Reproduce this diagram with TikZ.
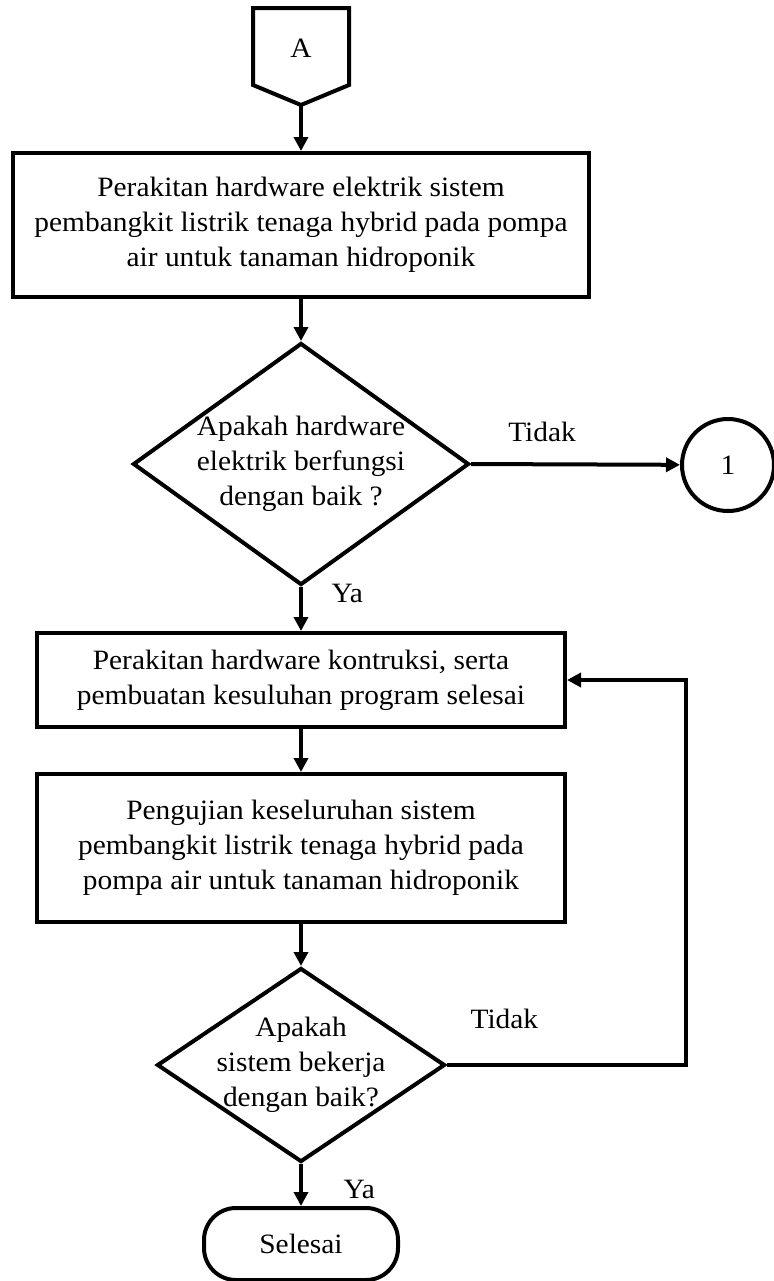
\documentclass[tikz,border=0pt]{standalone}
\usepackage{fontspec}
\setmainfont{Liberation Serif}[FakeStretch=1.05]
\usetikzlibrary{shapes}
\usetikzlibrary{arrows.meta}
\usetikzlibrary{calc}
\begin{document}
\begin{tikzpicture}[x=0.5pt,y=-0.5pt,line width=2pt,
  font=\fontsize{14}{17.5}\selectfont,
  box/.style={draw,rectangle,align=center,inner sep=0pt},
  dec/.style={draw,diamond,align=center,inner sep=-3pt},
  arr/.style={-{Triangle[length=7pt,width=7pt]}}]
\useasboundingbox (0,0) rectangle (774,1281);
% off-page connector
\node (A) at (301,48) {A};
\draw (253,8) -- (349,8) -- (349,85) -- (301,105) -- (253,85) -- cycle;
\coordinate (Atip) at (301,105);
\node[box,minimum width=288pt,minimum height=72pt] (rakit) at (301,225)
  {Perakitan hardware elektrik sistem\\pembangkit listrik tenaga hybrid pada pompa\\air untuk tanaman hidroponik};
\node[dec,shape aspect=1.39,minimum width=168pt,minimum height=121pt] (cek1) at (301,464)
  {Apakah hardware\\elektrik berfungsi\\dengan baik ?};
\node[draw,circle,minimum size=46pt,inner sep=0pt] (satu) at (728,465) {1};
\node[box,minimum width=264pt,minimum height=47pt] (kontruksi) at (301,680)
  {Perakitan hardware kontruksi, serta\\pembuatan kesuluhan program selesai};
\node[box,minimum width=264pt,minimum height=74pt] (uji) at (301,848)
  {Pengujian keseluruhan sistem\\pembangkit listrik tenaga hybrid pada\\pompa air untuk tanaman hidroponik};
\node[dec,shape aspect=1.48,minimum width=144pt,minimum height=97pt] (cek2) at (301,1065)
  {Apakah\\sistem bekerja\\dengan baik?};
\node[draw,rectangle,rounded corners=16pt,minimum width=97pt,minimum height=36pt] (selesai) at (301,1244) {Selesai};

\draw[arr] (Atip) -- (rakit);
\draw[arr] (rakit) -- (cek1);
\draw[arr] (cek1.east) -- node[above=7pt,pos=.34]{Tidak} (satu);
\draw[arr] (cek1.south) -- node[right=11pt,pos=.15]{Ya} (kontruksi);
\draw[arr] (kontruksi) -- (uji);
\draw[arr] (uji) -- (cek2);
\draw[arr] (cek2.east) -- node[above=14pt,pos=.24]{Tidak} ++(239,0) |- (kontruksi.east);
\draw[arr] (cek2.south) -- node[right=17pt,pos=.6]{Ya} (selesai);
\end{tikzpicture}
\end{document}
